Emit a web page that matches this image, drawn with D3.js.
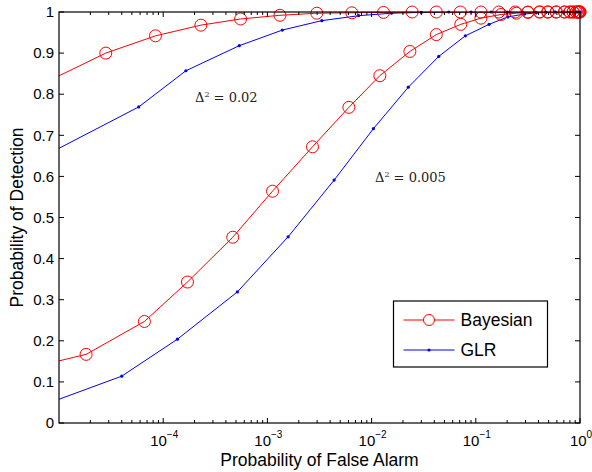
<!DOCTYPE html>
<html>
<head>
<meta charset="utf-8">
<script src="https://cdn.jsdelivr.net/npm/d3@7"></script>
<style>
  body { margin: 0; background: #fff; }
  svg { display: block; }
  text { font-family: "Liberation Sans", Arial, sans-serif; fill: #000; }
  .ann { font-family: "DejaVu Serif", "Liberation Serif", serif; font-size: 13px; fill: #222; }
</style>
</head>
<body>
<script>
// Bayesian, delta^2 = 0.02
var bay02X = [6.3e-6, 2.81e-5, 8.43e-5, 2.30e-4, 5.53e-4, 1.32e-3, 2.98e-3, 6.46e-3, 1.30e-2, 2.45e-2, 4.18e-2, 7.11e-2, 0.112, 0.166, 0.239, 0.316, 0.409, 0.492, 0.592, 0.711, 0.80, 0.857, 0.92, 0.957, 0.98, 1];
var bay02Y = [0.82, 0.900, 0.942, 0.968, 0.983, 0.992, 0.997, 0.998, 0.999, 1, 1, 1, 1, 1, 1, 1, 1, 1, 1, 1, 1, 1, 1, 1, 1, 1];
// GLR, delta^2 = 0.02
var glr02X = [6.3e-6, 5.82e-5, 1.65e-4, 5.37e-4, 1.39e-3, 3.33e-3, 7.5e-3, 1.55e-2, 3.0e-2, 5.5e-2, 0.09, 0.14, 0.2, 0.28, 0.37, 0.47, 0.58, 0.7, 0.85, 0.95, 1];
var glr02Y = [0.642, 0.769, 0.857, 0.918, 0.956, 0.979, 0.991, 0.997, 0.999, 1, 1, 1, 1, 1, 1, 1, 1, 1, 1, 1, 1];
// Bayesian, delta^2 = 0.005
var bay005X = [6.3e-6, 1.82e-5, 6.6e-5, 1.71e-4, 4.65e-4, 1.12e-3, 2.71e-3, 6.05e-3, 1.20e-2, 2.33e-2, 4.18e-2, 7.18e-2, 0.112, 0.175, 0.245, 0.316, 0.41, 0.49, 0.59, 0.71, 0.80, 0.86, 0.92, 0.96, 0.98, 1];
var bay005Y = [0.139, 0.167, 0.247, 0.343, 0.452, 0.564, 0.672, 0.768, 0.845, 0.904, 0.945, 0.970, 0.985, 0.994, 0.997, 0.999, 1, 1, 1, 1, 1, 1, 1, 1, 1, 1];
// GLR, delta^2 = 0.005
var glr005X = [6.3e-6, 4.0e-5, 1.37e-4, 5.15e-4, 1.58e-3, 4.37e-3, 1.04e-2, 2.25e-2, 4.41e-2, 7.94e-2, 0.134, 0.203, 0.293, 0.38, 0.47, 0.57, 0.68, 0.8, 0.92, 1];
var glr005Y = [0.039, 0.114, 0.204, 0.319, 0.453, 0.591, 0.716, 0.817, 0.892, 0.942, 0.970, 0.988, 0.995, 0.998, 0.999, 1, 1, 1, 1, 1];

var xTicks = [1e-4, 1e-3, 1e-2, 1e-1, 1];
var xTickExp = ["-4", "-3", "-2", "-1", "0"];
var yTicks = [0, 0.1, 0.2, 0.3, 0.4, 0.5, 0.6, 0.7, 0.8, 0.9, 1];
var legendNames = ["Bayesian", "GLR"];

var W = 592, H = 472;
var margin = { top: 12, right: 12, bottom: 49, left: 59 };
var w = W - margin.left - margin.right, h = H - margin.top - margin.bottom;

var svg = d3.select("body").append("svg").attr("width", W).attr("height", H);
var g = svg.append("g").attr("transform", "translate(" + margin.left + "," + margin.top + ")");

var x = d3.scaleLog().domain([1e-5, 1]).range([0, w]);
var y = d3.scaleLinear().domain([0, 1]).range([h, 0]);

g.append("clipPath").attr("id", "clip")
  .append("rect").attr("width", w).attr("height", h);

function zip(xs, ys) {
  return xs.map(function(v, i) { return [v, ys[i]]; });
}

var line = d3.line().x(function(d) { return x(d[0]); }).y(function(d) { return y(d[1]); });

var series = [
  { data: zip(bay02X, bay02Y), color: "#ff0000", marker: "circle" },
  { data: zip(bay005X, bay005Y), color: "#ff0000", marker: "circle" },
  { data: zip(glr02X, glr02Y), color: "#0000ff", marker: "dot" },
  { data: zip(glr005X, glr005Y), color: "#0000ff", marker: "dot" }
];

// draw GLR first so red sits on top
[2, 3, 0, 1].forEach(function(k) {
  var s = series[k];
  g.append("path")
    .datum(s.data)
    .attr("clip-path", "url(#clip)")
    .attr("fill", "none")
    .attr("stroke", s.color)
    .attr("stroke-width", 1)
    .attr("d", line);

  var pts = s.data.filter(function(d) { return d[0] >= 1e-5; });
  g.selectAll(null).data(pts).enter().append("circle")
    .attr("cx", function(d) { return x(d[0]); })
    .attr("cy", function(d) { return y(d[1]); })
    .attr("r", s.marker == "circle" ? 6 : 1.6)
    .attr("fill", s.marker == "circle" ? "none" : s.color)
    .attr("stroke", s.marker == "circle" ? s.color : "none")
    .attr("stroke-width", 1);
});

// axes box and ticks (inside, MATLAB style)
var axis = g.append("g").attr("stroke", "#000");
axis.append("rect").attr("width", w).attr("height", h)
  .attr("fill", "none").attr("stroke-width", 1.2);

var minor = [];
for (var e = -5; e < 0; e++) {
  for (var m = 2; m < 10; m++) minor.push(m * Math.pow(10, e));
}
minor.forEach(function(v) {
  axis.append("line").attr("x1", x(v)).attr("x2", x(v)).attr("y1", h).attr("y2", h - 3).attr("stroke-width", 1);
  axis.append("line").attr("x1", x(v)).attr("x2", x(v)).attr("y1", 0).attr("y2", 3).attr("stroke-width", 1);
});
xTicks.forEach(function(v) {
  axis.append("line").attr("x1", x(v)).attr("x2", x(v)).attr("y1", h).attr("y2", h - 5).attr("stroke-width", 1);
  axis.append("line").attr("x1", x(v)).attr("x2", x(v)).attr("y1", 0).attr("y2", 5).attr("stroke-width", 1);
});
yTicks.forEach(function(v) {
  axis.append("line").attr("x1", 0).attr("x2", 5).attr("y1", y(v)).attr("y2", y(v)).attr("stroke-width", 1);
  axis.append("line").attr("x1", w).attr("x2", w - 5).attr("y1", y(v)).attr("y2", y(v)).attr("stroke-width", 1);
});

// tick labels
yTicks.forEach(function(v) {
  g.append("text")
    .attr("x", -5).attr("y", y(v)).attr("dy", "0.35em")
    .attr("text-anchor", "end").style("font-size", "15px")
    .text(String(v));
});
xTicks.forEach(function(v, i) {
  var t = g.append("text")
    .attr("x", x(v) + 1).attr("y", h + 23)
    .attr("text-anchor", "middle").style("font-size", "15px");
  t.append("tspan").text("10");
  t.append("tspan").attr("dy", -8).style("font-size", "10px").text(xTickExp[i].replace("-", "\u2212"));
});

// axis labels
svg.append("text")
  .attr("x", margin.left + w / 2).attr("y", 466)
  .attr("text-anchor", "middle").style("font-size", "17.5px")
  .text("Probability of False Alarm");
svg.append("text")
  .attr("transform", "translate(23," + (margin.top + h / 2) + ") rotate(-90)")
  .attr("text-anchor", "middle").style("font-size", "17.5px")
  .text("Probability of Detection");

// annotations
function annot(px, py, val) {
  var t = svg.append("text").attr("class", "ann").attr("x", px).attr("y", py);
  t.append("tspan").text("\u0394");
  t.append("tspan").attr("dy", -5).style("font-size", "8px").text("2");
  t.append("tspan").attr("dy", 5).text(" = " + val);
}
annot(195, 102, "0.02");
annot(375, 182, "0.005");

// legend
var lg = svg.append("g").attr("transform", "translate(393.5,301)");
lg.append("rect").attr("width", 154).attr("height", 66)
  .attr("fill", "#fff").attr("stroke", "#000").attr("stroke-width", 1.2);
legendNames.forEach(function(name, i) {
  var yy = 19 + i * 30;
  var col = i == 0 ? "#ff0000" : "#0000ff";
  lg.append("line").attr("x1", 10).attr("x2", 61).attr("y1", yy).attr("y2", yy)
    .attr("stroke", col).attr("stroke-width", 1);
  lg.append("circle").attr("cx", 35.5).attr("cy", yy)
    .attr("r", i == 0 ? 5.5 : 1.6)
    .attr("fill", i == 0 ? "#fff" : col)
    .attr("stroke", i == 0 ? col : "none");
  lg.append("text").attr("x", 67).attr("y", yy).attr("dy", "0.36em")
    .style("font-size", "17.5px").text(name);
});
</script>
</body>
</html>
